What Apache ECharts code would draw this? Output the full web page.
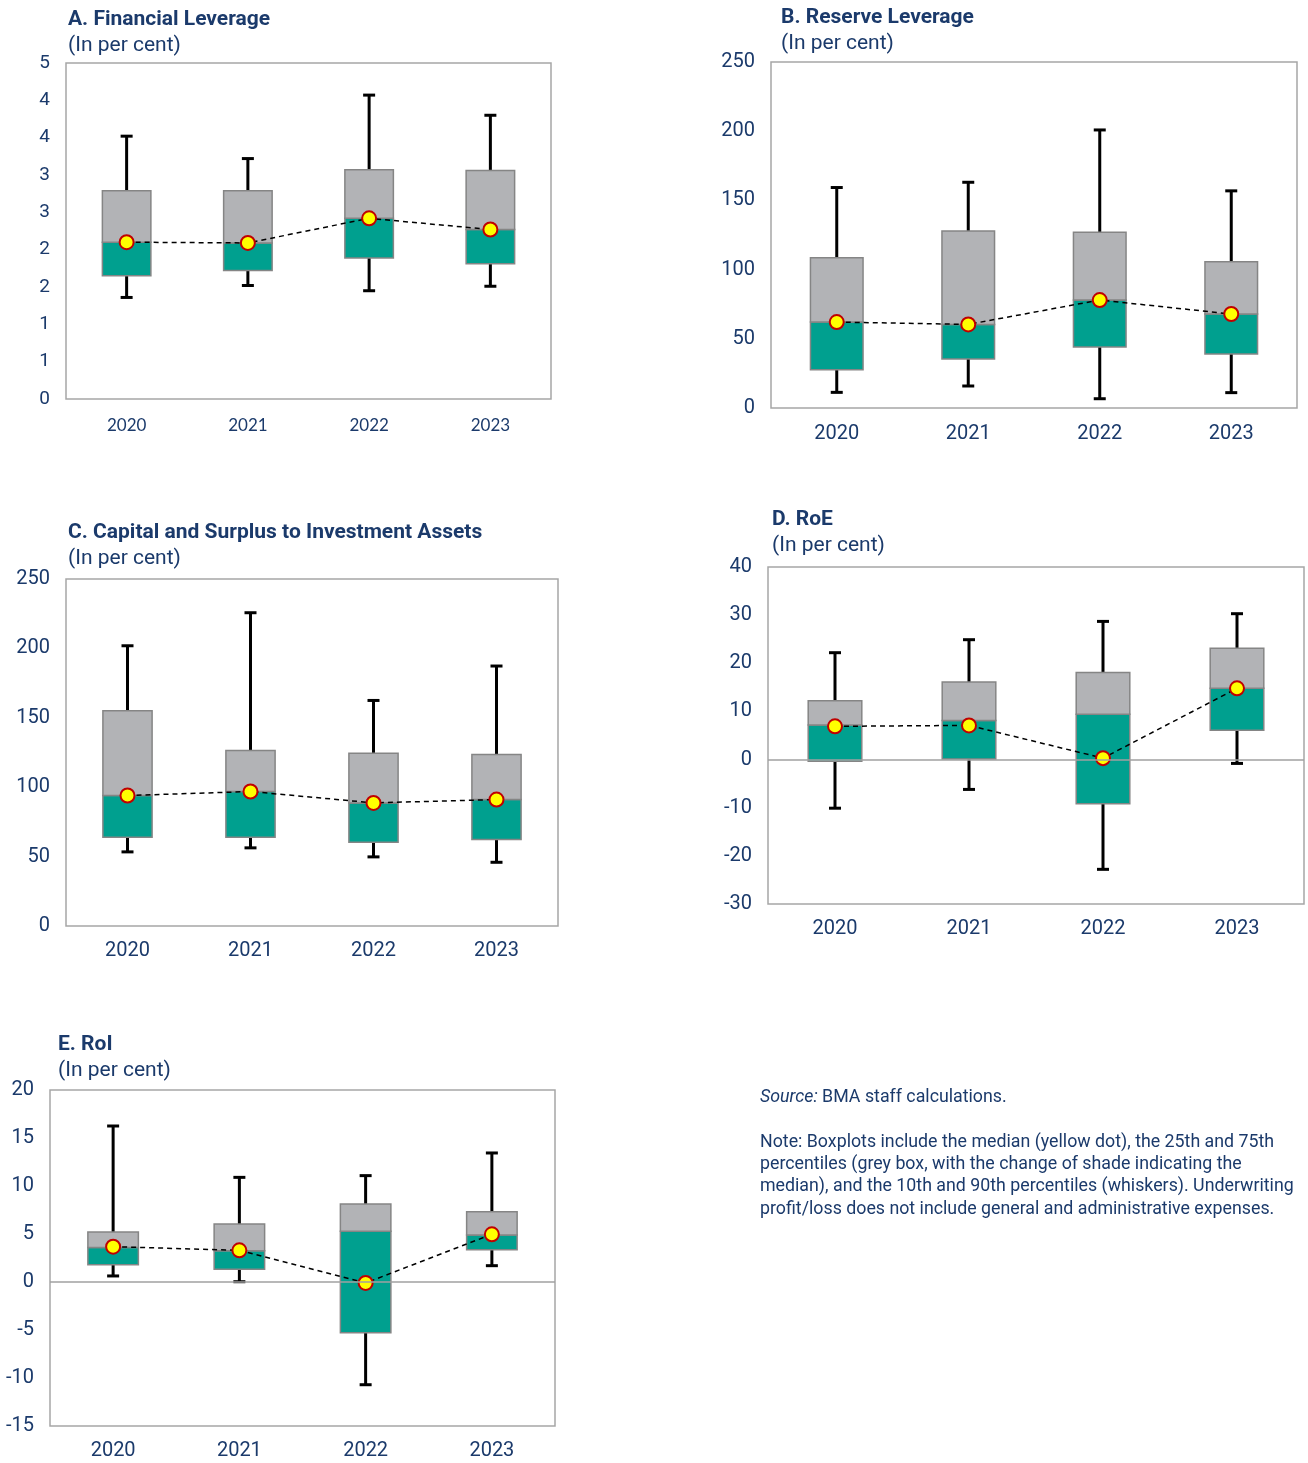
<!DOCTYPE html>
<html>
<head>
<meta charset="utf-8">
<script src="https://cdn.jsdelivr.net/npm/echarts@6/dist/echarts.min.js"></script>
<style>
  html, body { margin: 0; padding: 0; background: #fff; }
  #main { width: 1308px; height: 1463px; }
</style>
</head>
<body>
<div id="main"></div>
<script>
// years on the x axis
var years = ['2020', '2021', '2022', '2023'];

// A. Financial Leverage
var levP10 = [1.36, 1.52, 1.45, 1.51];
var levP25 = [1.65, 1.72, 1.89, 1.81];
var levMed = [2.10, 2.09, 2.42, 2.27];
var levShade = [2.10, 2.09, 2.42, 2.27];
var levP75 = [2.79, 2.79, 3.07, 3.06];
var levP90 = [3.52, 3.22, 4.07, 3.80];

// B. Reserve Leverage
var resP10 = [11.3, 15.9, 6.7, 11.1];
var resP25 = [27.7, 35.4, 44.0, 39.0];
var resMed = [62.1, 60.4, 78.0, 67.9];
var resShade = [62.1, 60.4, 78.0, 67.9];
var resP75 = [108.5, 127.8, 127.0, 105.6];
var resP90 = [159.3, 163.1, 200.9, 156.9];

// C. Capital and Surplus to Investment Assets
var capP10 = [53.4, 56.3, 49.8, 45.9];
var capP25 = [63.9, 63.9, 60.3, 62.3];
var capMed = [94.0, 96.9, 88.7, 91.1];
var capShade = [94.0, 96.9, 88.7, 91.1];
var capP75 = [155.0, 126.4, 124.5, 123.6];
var capP90 = [201.9, 225.7, 162.5, 187.3];

// D. RoE
var roeP10 = [-10.1, -6.2, -22.8, -0.8];
var roeP25 = [-0.35, 0.1, -9.2, 6.1];
var roeMed = [6.9, 7.1, 0.3, 14.8];
var roeShade = [7.2, 8.1, 9.4, 14.8];
var roeP75 = [12.2, 16.1, 18.1, 23.1];
var roeP90 = [22.2, 24.9, 28.7, 30.3];

// E. RoI
var roiP10 = [0.63, 0.03, -10.7, 1.70];
var roiP25 = [1.80, 1.32, -5.28, 3.37];
var roiMed = [3.68, 3.30, -0.10, 4.97];
var roiShade = [3.60, 3.26, 5.28, 4.90];
var roiP75 = [5.20, 6.04, 8.13, 7.33];
var roiP90 = [16.25, 10.90, 11.08, 13.44];

var navy = '#1B3A6B';
var teal = '#00A08F';
var grey = '#B2B3B6';
var boxBorder = '#858585';
var font = 'Roboto';

var panels = [
  { title: 'A. Financial Leverage', tl: 68, tt: 8, grid: { left: 66, top: 63, width: 485, height: 336 },
    min: 0, max: 4.5, interval: 0.5, fmt: function (v) { return Math.round(v); },
    xFont: 'Lato', xSize: 17, xMargin: 18, ySize: 19, zero: false,
    p10: levP10, p25: levP25, med: levMed, shade: levShade, p75: levP75, p90: levP90 },
  { title: 'B. Reserve Leverage', tl: 781, tt: 6, grid: { left: 771, top: 62, width: 526, height: 346 },
    min: 0, max: 250, interval: 50, fmt: null, xFont: font, xSize: 20, xMargin: 16, ySize: 20, zero: false,
    p10: resP10, p25: resP25, med: resMed, shade: resShade, p75: resP75, p90: resP90 },
  { title: 'C. Capital and Surplus to Investment Assets', tl: 68, tt: 521, grid: { left: 66, top: 579, width: 492, height: 347 },
    min: 0, max: 250, interval: 50, fmt: null, xFont: font, xSize: 20, xMargin: 15, ySize: 20, zero: false,
    p10: capP10, p25: capP25, med: capMed, shade: capShade, p75: capP75, p90: capP90 },
  { title: 'D. RoE', tl: 772, tt: 508, grid: { left: 768, top: 567, width: 536, height: 337 },
    min: -30, max: 40, interval: 10, fmt: null, xFont: font, xSize: 20, xMargin: 15, ySize: 20, zero: true,
    p10: roeP10, p25: roeP25, med: roeMed, shade: roeShade, p75: roeP75, p90: roeP90 },
  { title: 'E. RoI', tl: 58, tt: 1033, grid: { left: 50, top: 1090, width: 505, height: 336 },
    min: -15, max: 20, interval: 5, fmt: null, xFont: font, xSize: 20, xMargin: 15, ySize: 20, zero: true,
    p10: roiP10, p25: roiP25, med: roiMed, shade: roiShade, p75: roiP75, p90: roiP90 }
];

// whiskers + two-tone box
function renderBox(params, api) {
  var x = api.value(0);
  var lo = api.coord([x, api.value(1)]);
  var q1 = api.coord([x, api.value(2)]);
  var sh = api.coord([x, api.value(3)]);
  var q3 = api.coord([x, api.value(4)]);
  var hi = api.coord([x, api.value(5)]);
  var bw = api.size([1, 0])[0] * 0.4;
  var cap = 6;
  var ws = { stroke: '#000', lineWidth: 3 };
  return {
    type: 'group',
    children: [
      { type: 'line', shape: { x1: lo[0], y1: lo[1], x2: hi[0], y2: hi[1] }, style: ws },
      { type: 'line', shape: { x1: lo[0] - cap, y1: lo[1], x2: lo[0] + cap, y2: lo[1] }, style: ws },
      { type: 'line', shape: { x1: hi[0] - cap, y1: hi[1], x2: hi[0] + cap, y2: hi[1] }, style: ws },
      { type: 'rect', shape: { x: q1[0] - bw / 2, y: sh[1], width: bw, height: q1[1] - sh[1] },
        style: { fill: teal, stroke: boxBorder, lineWidth: 1.5 } },
      { type: 'rect', shape: { x: q1[0] - bw / 2, y: q3[1], width: bw, height: sh[1] - q3[1] },
        style: { fill: grey, stroke: boxBorder, lineWidth: 1.5 } }
    ]
  };
}

var option = {
  animation: false,
  backgroundColor: '#fff',
  title: [],
  grid: [],
  xAxis: [],
  yAxis: [],
  series: [],
  graphic: [{
    type: 'text', left: 760, top: 1089,
    style: {
      text: '{i|Source:} BMA staff calculations.',
      font: '17.8px ' + font, fill: navy,
      rich: { i: { fontStyle: 'italic', fontSize: 17.8, fontFamily: font, fill: navy } }
    }
  }, {
    type: 'text', left: 760, top: 1131,
    style: {
      text: 'Note: Boxplots include the median (yellow dot), the 25th and 75th\n' +
            'percentiles (grey box, with the change of shade indicating the\n' +
            'median), and the 10th and 90th percentiles (whiskers). Underwriting\n' +
            'profit/loss does not include general and administrative expenses.',
      font: '17.8px ' + font, fill: navy, lineHeight: 22.4
    }
  }]
};

panels.forEach(function (p, i) {
  option.title.push({
    text: p.title, subtext: '(In per cent)', left: p.tl, top: p.tt, padding: 0, itemGap: 2,
    textStyle: { fontFamily: font, fontSize: 21, fontWeight: 'bold', color: navy, lineHeight: 24 },
    subtextStyle: { fontFamily: font, fontSize: 21, color: navy, lineHeight: 24 }
  });
  option.grid.push({
    left: p.grid.left, top: p.grid.top, width: p.grid.width, height: p.grid.height,
    show: true, borderColor: '#A6A6A6', borderWidth: 1.5, backgroundColor: 'transparent'
  });
  option.xAxis.push({
    type: 'category', gridIndex: i, data: years, boundaryGap: true,
    axisLine: { show: false, onZero: false }, axisTick: { show: false },
    axisLabel: { color: navy, fontFamily: p.xFont, fontSize: p.xSize, margin: p.xMargin }
  });
  option.yAxis.push({
    type: 'value', gridIndex: i, min: p.min, max: p.max, interval: p.interval,
    axisLine: { show: false }, axisTick: { show: false }, splitLine: { show: false },
    axisLabel: { color: navy, fontFamily: font, fontSize: p.ySize, margin: 16, formatter: p.fmt || '{value}' }
  });
  option.series.push({
    type: 'custom', xAxisIndex: i, yAxisIndex: i, z: 2,
    renderItem: renderBox,
    encode: { x: 0, y: [1, 2, 3, 4, 5] },
    data: years.map(function (y, k) {
      return [k, p.p10[k], p.p25[k], p.shade[k], p.p75[k], p.p90[k]];
    })
  });
  if (p.zero) {
    option.series.push({
      type: 'line', xAxisIndex: i, yAxisIndex: i, z: 3, data: [],
      markLine: {
        silent: true, symbol: ['none', 'none'], label: { show: false },
        lineStyle: { color: '#A0A0A0', width: 1.5, type: 'solid' },
        data: [{ yAxis: 0 }]
      }
    });
  }
  option.series.push({
    type: 'line', xAxisIndex: i, yAxisIndex: i, z: 4,
    data: p.med,
    symbol: 'circle', symbolSize: 14,
    itemStyle: { color: '#FFFF00', borderColor: '#C00000', borderWidth: 2 },
    lineStyle: { color: '#000', width: 1.5, type: [5, 4] }
  });
});

var chart = echarts.init(document.getElementById('main'));
chart.setOption(option);
</script>
</body>
</html>
